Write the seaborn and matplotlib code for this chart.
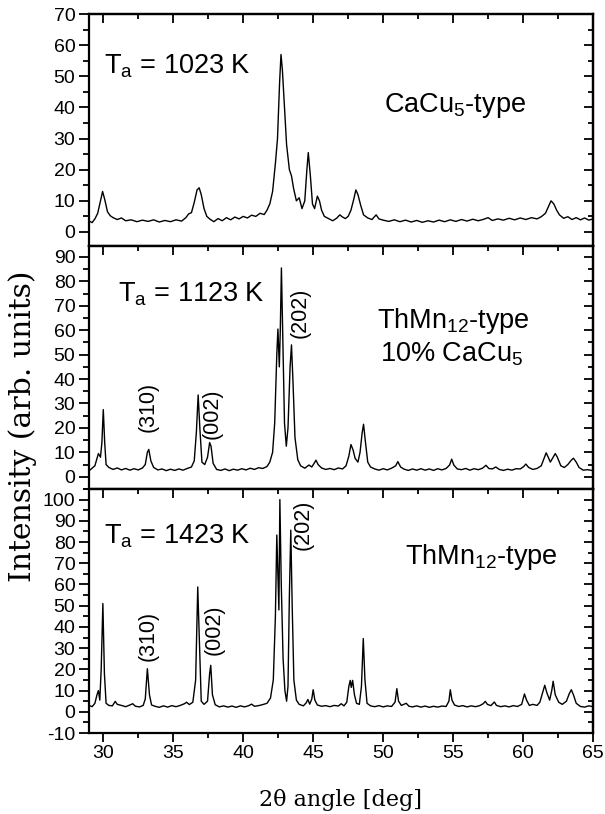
import matplotlib
matplotlib.use("Agg")
import matplotlib.pyplot as plt
import seaborn as sns
import pandas as pd
from matplotlib.ticker import MultipleLocator

# ---------------- data ----------------
two_theta_1023 = [29.0, 29.2, 29.4, 29.6, 29.8, 29.95, 30.1, 30.3, 30.5, 30.7, 31.0, 31.3, 31.6, 32.0, 32.4,
                  32.8, 33.2, 33.6, 34.0, 34.4, 34.8, 35.2, 35.6, 35.9, 36.1, 36.3, 36.5, 36.7, 36.85, 37.0,
                  37.2, 37.4, 37.6, 37.9, 38.2, 38.5, 38.8, 39.1, 39.4, 39.7, 40.0, 40.3, 40.6, 40.9, 41.2,
                  41.5, 41.7, 41.9, 42.1, 42.3, 42.45, 42.6, 42.7, 42.8, 42.95, 43.1, 43.3, 43.45, 43.6, 43.8,
                  44.0, 44.2, 44.4, 44.55, 44.65, 44.8, 44.95, 45.1, 45.3, 45.45, 45.6, 45.8, 46.1, 46.4, 46.7,
                  46.9, 47.1, 47.3, 47.5, 47.7, 47.9, 48.05, 48.2, 48.4, 48.6, 48.9, 49.2, 49.5, 49.7, 50.0,
                  50.4, 50.8, 51.2, 51.6, 52.0, 52.4, 52.8, 53.2, 53.6, 54.0, 54.4, 54.8, 55.2, 55.6, 56.0,
                  56.4, 56.8, 57.2, 57.5, 57.8, 58.2, 58.6, 59.0, 59.4, 59.8, 60.2, 60.6, 61.0, 61.3, 61.6,
                  61.85, 62.0, 62.2, 62.4, 62.6, 62.9, 63.2, 63.5, 63.8, 64.1, 64.4, 64.7, 65.0]
counts_1023 = [3.5, 3.0, 4.2, 6.0, 10.0, 13.0, 10.5, 6.5, 5.2, 4.6, 4.0, 4.5, 3.6, 3.9, 3.3,
               3.8, 3.4, 3.9, 3.2, 3.7, 3.3, 3.9, 3.5, 4.6, 5.8, 6.2, 9.5, 13.5, 14.2, 12.0,
               7.5, 5.0, 4.2, 3.3, 4.3, 3.6, 4.6, 3.9, 4.8, 4.2, 5.0, 4.5, 5.4, 5.0, 6.0,
               5.6, 7.0, 9.0, 13.0, 22.0, 30.0, 48.0, 57.0, 52.0, 40.0, 28.0, 20.0, 18.0, 14.0, 10.0,
               11.0, 7.5, 10.0, 20.0, 25.5, 18.0, 9.0, 7.5, 11.5, 10.0, 7.0, 5.0, 4.3, 3.6, 4.5,
               5.5, 4.8, 4.3, 5.0, 7.0, 10.5, 13.5, 12.0, 8.5, 5.5, 4.5, 4.0, 5.5, 4.2, 3.8,
               3.4, 3.9, 3.3, 3.8, 3.2, 3.7, 3.1, 3.6, 3.2, 3.8, 3.3, 3.9, 3.4, 4.0, 3.5,
               4.1, 3.6, 4.1, 4.6, 3.7, 4.2, 3.8, 4.4, 3.9, 4.5, 4.0, 4.6, 4.2, 4.9, 6.0,
               8.5, 10.0, 9.0, 7.0, 5.5, 4.4, 4.9, 4.0, 4.6, 3.9, 4.5, 3.8, 4.2]

two_theta_1123 = [29.0, 29.2, 29.4, 29.55, 29.65, 29.8, 29.9, 30.0, 30.1, 30.2, 30.4, 30.7, 31.0, 31.3, 31.6,
                  31.9, 32.2, 32.5, 32.8, 33.0, 33.15, 33.25, 33.4, 33.6, 33.9, 34.2, 34.5, 34.8, 35.1, 35.4,
                  35.7, 36.0, 36.3, 36.5, 36.65, 36.78, 36.9, 37.05, 37.25, 37.45, 37.6, 37.7, 37.85, 38.1, 38.4,
                  38.7, 39.0, 39.3, 39.6, 39.9, 40.2, 40.5, 40.8, 41.1, 41.4, 41.7, 41.9, 42.1, 42.25, 42.4,
                  42.48, 42.58, 42.65, 42.73, 42.82, 42.95, 43.08, 43.2, 43.35, 43.45, 43.55, 43.7, 43.9, 44.1, 44.4,
                  44.7, 44.9, 45.1, 45.2, 45.35, 45.6, 45.9, 46.2, 46.5, 46.8, 47.1, 47.35, 47.55, 47.7, 47.85,
                  48.0, 48.2, 48.35, 48.5, 48.6, 48.72, 48.9, 49.1, 49.4, 49.7, 50.0, 50.3, 50.6, 50.9, 51.05,
                  51.25, 51.5, 51.8, 52.1, 52.4, 52.7, 53.0, 53.3, 53.6, 53.9, 54.2, 54.5, 54.75, 54.9, 55.05,
                  55.3, 55.6, 55.9, 56.2, 56.5, 56.8, 57.1, 57.35, 57.55, 57.8, 58.05, 58.3, 58.6, 58.9, 59.2,
                  59.5, 59.8, 60.05, 60.2, 60.4, 60.7, 61.0, 61.3, 61.5, 61.65, 61.8, 61.95, 62.1, 62.3, 62.45,
                  62.7, 62.95, 63.2, 63.45, 63.6, 63.8, 64.0, 64.3, 64.6, 65.0]
counts_1123 = [2.5, 3.5, 4.5, 7.5, 9.5, 8.0, 14.0, 27.5, 14.0, 5.0, 3.8, 3.0, 3.6, 2.8, 3.4,
               2.7, 3.3, 2.8, 3.6, 5.0, 10.0, 11.2, 6.5, 3.8, 2.8, 3.2, 2.5, 3.1, 2.6, 3.2,
               2.7, 3.4, 4.0, 6.5, 18.0, 33.5, 20.0, 6.0, 5.0, 8.0, 14.0, 12.5, 5.5, 3.0, 2.6,
               3.2, 2.5, 3.1, 2.7, 3.3, 2.8, 3.5, 3.0, 3.7, 3.4, 4.2, 6.0, 10.0, 22.0, 50.0,
               60.5, 45.0, 60.0, 85.5, 60.0, 22.0, 12.5, 20.0, 45.0, 54.0, 40.0, 16.0, 7.0, 4.5, 3.5,
               4.8, 4.0, 5.8, 6.8, 5.0, 3.6, 3.0, 3.4, 2.9, 3.6, 3.2, 4.5, 8.5, 13.2, 11.0,
               7.5, 6.0, 10.0, 18.0, 21.5, 15.0, 6.0, 4.0, 3.2, 2.7, 3.3, 2.8, 3.5, 4.5, 6.2,
               4.0, 3.1, 2.6, 3.2, 2.7, 3.3, 2.7, 3.2, 2.6, 3.3, 2.8, 3.4, 4.8, 7.2, 4.8,
               3.2, 2.9, 3.4, 2.7, 3.3, 2.9, 3.5, 4.7, 3.4, 3.2, 4.0, 3.0, 2.6, 3.1, 2.7,
               3.3, 3.2, 4.2, 5.2, 3.8, 3.0, 3.4, 4.5, 7.5, 9.8, 8.0, 6.0, 7.5, 9.5, 8.0,
               4.5, 3.8, 5.0, 6.8, 7.6, 6.0, 3.8, 2.7, 2.9, 2.5]

two_theta_1423 = [29.0, 29.2, 29.4, 29.55, 29.65, 29.75, 29.85, 29.97, 30.08, 30.2, 30.4, 30.65, 30.85, 31.0, 31.3,
                  31.6, 31.9, 32.1, 32.3, 32.6, 32.85, 33.0, 33.15, 33.3, 33.45, 33.7, 34.0, 34.3, 34.6, 34.9,
                  35.2, 35.5, 35.8, 35.95, 36.15, 36.4, 36.6, 36.75, 36.88, 37.0, 37.2, 37.45, 37.6, 37.68, 37.8,
                  38.0, 38.3, 38.6, 38.9, 39.2, 39.5, 39.8, 40.1, 40.4, 40.6, 40.8, 41.1, 41.4, 41.7, 41.95,
                  42.15, 42.3, 42.4, 42.5, 42.55, 42.62, 42.72, 42.85, 42.98, 43.1, 43.2, 43.3, 43.4, 43.5, 43.62,
                  43.8, 44.0, 44.3, 44.5, 44.62, 44.75, 44.9, 45.0, 45.12, 45.3, 45.6, 45.9, 46.2, 46.5, 46.8,
                  47.0, 47.2, 47.4, 47.55, 47.65, 47.72, 47.82, 47.95, 48.1, 48.3, 48.45, 48.58, 48.7, 48.85, 49.1,
                  49.4, 49.7, 50.0, 50.3, 50.6, 50.85, 50.98, 51.1, 51.3, 51.65, 51.85, 52.1, 52.4, 52.7, 53.0,
                  53.3, 53.6, 53.9, 54.2, 54.5, 54.7, 54.8, 54.92, 55.1, 55.4, 55.7, 56.0, 56.3, 56.6, 56.9,
                  57.15, 57.3, 57.45, 57.7, 57.95, 58.1, 58.4, 58.7, 59.0, 59.3, 59.6, 59.9, 60.1, 60.25, 60.45,
                  60.7, 61.0, 61.2, 61.4, 61.55, 61.7, 61.9, 62.05, 62.15, 62.3, 62.55, 62.8, 63.1, 63.3, 63.45,
                  63.6, 63.8, 64.1, 64.4, 64.7, 65.0]
counts_1423 = [3.0, 2.4, 4.0, 8.0, 10.0, 5.5, 20.0, 51.0, 18.0, 4.0, 3.0, 2.8, 4.9, 3.5, 3.0,
               2.4, 3.2, 3.8, 2.6, 2.3, 3.0, 6.0, 20.3, 8.0, 3.2, 2.6, 2.1, 2.8, 2.2, 2.9,
               2.4, 3.0, 3.8, 4.5, 3.4, 4.5, 15.0, 58.8, 30.0, 5.0, 3.5, 5.0, 18.0, 21.9, 8.0,
               3.3, 2.3, 2.8, 2.2, 2.7, 2.1, 2.8, 2.3, 2.9, 3.6, 2.6, 2.9, 3.4, 4.0, 6.5,
               15.0, 45.0, 83.3, 60.0, 48.0, 100.0, 60.0, 25.0, 10.0, 5.0, 12.0, 55.0, 85.6, 50.0, 15.0,
               5.5, 3.5, 2.8, 4.2, 5.8, 3.6, 6.0, 10.4, 5.5, 3.2, 2.6, 2.9, 2.4, 3.0, 2.7,
               3.8, 2.8, 4.5, 12.0, 14.8, 11.5, 14.8, 8.0, 4.0, 3.5, 12.0, 34.5, 15.0, 4.0, 2.8,
               2.4, 2.9, 2.3, 2.8, 2.5, 4.5, 10.9, 5.0, 3.0, 4.0, 2.6, 2.3, 2.8, 2.2, 2.7,
               2.1, 2.6, 2.2, 2.7, 2.5, 5.0, 10.4, 5.5, 3.2, 2.5, 2.9, 2.3, 2.8, 2.4, 2.9,
               3.8, 4.9, 3.5, 2.9, 4.6, 3.0, 2.4, 2.8, 2.3, 2.9, 2.5, 3.5, 8.4, 5.5, 3.0,
               3.5, 3.0, 4.5, 9.0, 12.5, 9.0, 5.5, 10.0, 14.4, 8.0, 4.5, 3.5, 5.0, 8.5, 10.4,
               8.0, 4.0, 2.5, 2.2, 2.8, 2.4]

anneal_labels = ["1023", "1123", "1423"]
phase_labels = [["CaCu$_\\mathregular{5}$-type"],
                ["ThMn$_\\mathregular{12}$-type", "10% CaCu$_\\mathregular{5}$"],
                ["ThMn$_\\mathregular{12}$-type"]]
peak_names = ["(310)", "(002)", "(202)"]
peak_pos_1123 = [33.2, 37.8, 44.05]
peak_lab_y_1123 = [18.5, 15.6, 56.8]
peak_pos_1423 = [33.2, 37.9, 44.3]
peak_lab_y_1423 = [23.7, 26.8, 76.4]
y_limits = [(-4.5, 70), (-5, 94.5), (-10, 105)]

# ---------------- styling ----------------
sns.set_theme(style="ticks")
plt.rcParams["font.family"] = ["Liberation Sans", "DejaVu Sans"]
plt.rcParams["axes.unicode_minus"] = False
plt.rcParams["mathtext.fontset"] = "custom"
plt.rcParams["mathtext.rm"] = "Liberation Sans"
plt.rcParams["mathtext.it"] = "Liberation Sans"
for key in ["text.color", "axes.edgecolor", "axes.labelcolor", "xtick.color", "ytick.color"]:
    plt.rcParams[key] = "black"

fig = plt.figure(figsize=(6.05, 8.14), dpi=100)
L, W = 0.1476, 0.8326
ax1 = fig.add_axes([L, 0.6978, W, 0.2850])
ax2 = fig.add_axes([L, 0.3993, W, 0.2985])
ax3 = fig.add_axes([L, 0.0995, W, 0.2998])
axes = [ax1, ax2, ax3]

frames = [pd.DataFrame({"tt": two_theta_1023, "I": counts_1023}),
          pd.DataFrame({"tt": two_theta_1123, "I": counts_1123}),
          pd.DataFrame({"tt": two_theta_1423, "I": counts_1423})]

SPW = 1.6
TICKFS = 14
for i, (ax, df) in enumerate(zip(axes, frames)):
    sns.lineplot(data=df, x="tt", y="I", ax=ax, color="black", linewidth=1.0,
                 estimator=None, sort=False)
    ax.set_xlim(29, 65)
    ax.set_ylim(*y_limits[i])
    ax.set_xlabel("")
    ax.set_ylabel("")
    ax.xaxis.set_major_locator(MultipleLocator(5))
    ax.xaxis.set_minor_locator(MultipleLocator(2.5))
    ax.yaxis.set_major_locator(MultipleLocator(10))
    ax.yaxis.set_minor_locator(MultipleLocator(5))
    for s in ax.spines.values():
        s.set_linewidth(SPW)
        s.set_visible(True)
        s.set_color("black")
    ax.tick_params(axis="y", which="major", direction="out", length=7, width=1.3,
                   labelsize=TICKFS, pad=3, left=True, right=False, colors="black")
    ax.tick_params(axis="y", which="minor", direction="out", length=4, width=1.3,
                   left=True, right=False, colors="black")
    if ax is ax3:
        ax.tick_params(axis="x", which="major", direction="out", length=6.5, width=1.3,
                       labelsize=TICKFS, pad=2, top=False, colors="black")
        ax.tick_params(axis="x", which="minor", direction="out", length=3.5, width=1.3,
                       top=False, colors="black")
    else:
        ax.tick_params(axis="x", which="both", bottom=False, top=False, labelbottom=False)

    # inward ticks on right and top
    sy = ax.secondary_yaxis("right")
    sy.yaxis.set_major_locator(MultipleLocator(10))
    sy.yaxis.set_minor_locator(MultipleLocator(5))
    sy.tick_params(axis="y", which="major", direction="in", length=6.5, width=1.3,
                   labelright=False, colors="black")
    sy.tick_params(axis="y", which="minor", direction="in", length=3.5, width=1.3,
                   labelright=False, colors="black")
    sx = ax.secondary_xaxis("top")
    sx.xaxis.set_major_locator(MultipleLocator(5))
    sx.xaxis.set_minor_locator(MultipleLocator(2.5))
    sx.tick_params(axis="x", which="major", direction="in", length=6.5, width=1.3,
                   labeltop=False, colors="black")
    sx.tick_params(axis="x", which="minor", direction="in", length=3.5, width=1.3,
                   labeltop=False, colors="black")
    for sec in (sy, sx):
        for s in sec.spines.values():
            s.set_linewidth(SPW)
            s.set_color("black")

ANN = 19.5
# annealing temperature labels
ax1.text(0.03, 0.744, "T$_\\mathregular{a}$ = %s K" % anneal_labels[0], transform=ax1.transAxes,
         fontsize=ANN, va="baseline", ha="left")
ax2.text(0.057, 0.771, "T$_\\mathregular{a}$ = %s K" % anneal_labels[1], transform=ax2.transAxes,
         fontsize=ANN, va="baseline", ha="left")
ax3.text(0.03, 0.775, "T$_\\mathregular{a}$ = %s K" % anneal_labels[2], transform=ax3.transAxes,
         fontsize=ANN, va="baseline", ha="left")
# phase labels
ax1.text(0.586, 0.579, phase_labels[0][0], transform=ax1.transAxes, fontsize=ANN, va="baseline")
ax2.text(0.571, 0.661, phase_labels[1][0], transform=ax2.transAxes, fontsize=ANN, va="baseline")
ax2.text(0.578, 0.524, phase_labels[1][1], transform=ax2.transAxes, fontsize=ANN, va="baseline")
ax3.text(0.627, 0.693, phase_labels[2][0], transform=ax3.transAxes, fontsize=ANN, va="baseline")

# reflection labels
for name, x, y in zip(peak_names, peak_pos_1123, peak_lab_y_1123):
    ax2.text(x, y, name, rotation=90, ha="center", va="bottom", fontsize=15.5)
for name, x, y in zip(peak_names, peak_pos_1423, peak_lab_y_1423):
    ax3.text(x, y, name, rotation=90, ha="center", va="bottom", fontsize=15.5)

# axis titles
fig.text(0.5626, 0.0098, "2θ angle [deg]", ha="center", va="baseline",
         fontsize=16, family=["DejaVu Serif"])
fig.text(0.038, 0.476, "Intensity (arb. units)", ha="center", va="center", rotation=90,
         fontsize=21.5, family=["DejaVu Serif"])

fig.savefig("out.png", dpi=100)
